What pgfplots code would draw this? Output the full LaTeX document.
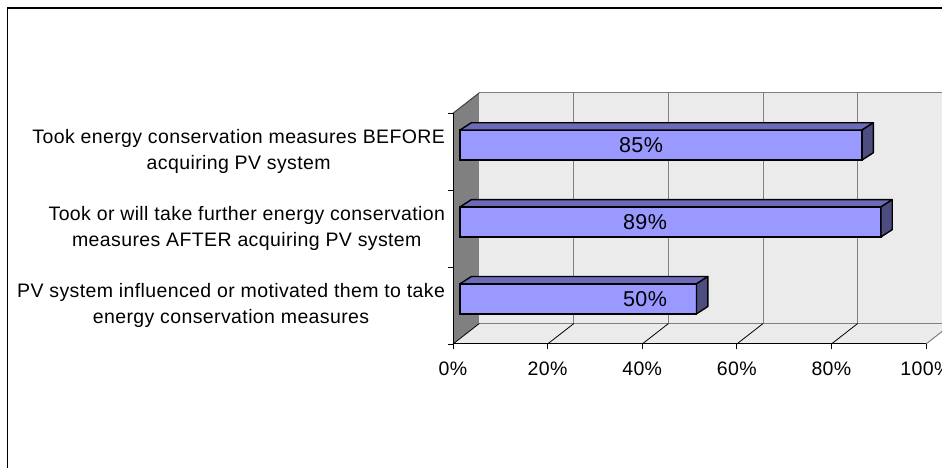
\documentclass[border=0pt]{standalone}
\usepackage{pgfplots}
\pgfplotsset{compat=1.18}
\usepackage{fontspec}
\setmainfont{Liberation Sans}[LetterSpace=2]
\definecolor{barfront}{HTML}{9999FF}
\definecolor{bartop}{HTML}{6B6BB8}
\definecolor{barside}{HTML}{4D4D80}
\definecolor{sidewall}{HTML}{808080}
\definecolor{backwall}{HTML}{EBEBEB}
\definecolor{gridgray}{HTML}{808080}
\newcommand{\lblfont}{\fontsize{19.5}{26}\selectfont}
\begin{document}
\begin{tikzpicture}
\fill[white] (0pt,0pt) rectangle (942pt,468pt);
\draw[line width=1.6pt] (7.5pt,-20pt) -- (7.5pt,460pt) -- (970pt,460pt);
\begin{axis}[
  axis on top,
  at={(453pt,124pt)}, anchor=south west,
  scale only axis, width=473pt, height=230.7pt,
  xmin=0, xmax=100, ymin=-0.5, ymax=2.5,
  clip=false,
  axis x line*=bottom, axis y line*=left,
  axis line style={black, line width=1pt},
  xtick={0,20,40,60,80,100},
  xticklabels={0\%,20\%,40\%,60\%,80\%,100\%},
  ytick={-0.5,0.5,1.5,2.5}, yticklabels={},
  extra y ticks={0,1,2},
  extra y tick labels={{PV system influenced or motivated them to take\\energy conservation measures},
                       {Took or will take further energy conservation\\measures AFTER acquiring PV system},
                       {Took energy conservation measures BEFORE\\acquiring PV system}},
  extra y tick style={tick style={draw=none}},
  tick align=outside,
  major tick length=5.5pt,
  tick style={black, line width=0.8pt},
  ticklabel style={font=\lblfont},
  yticklabel style={align=center, xshift=1pt},
  xticklabel style={yshift=-9pt},
]
  \fill[sidewall] (axis cs:0,-0.5) -- (axis cs:0,2.5)
     -- ([shift={(26.3pt,20.5pt)}]axis cs:0,2.5) -- ([shift={(26.3pt,20.5pt)}]axis cs:0,-0.5) -- cycle;
  \fill[backwall] ([shift={(26.3pt,20.5pt)}]axis cs:0,-0.5) rectangle ([shift={(26.3pt,20.5pt)}]axis cs:100,2.5);
  \fill[backwall] (axis cs:0,-0.5) -- (axis cs:100,-0.5)
     -- ([shift={(26.3pt,20.5pt)}]axis cs:100,-0.5) -- ([shift={(26.3pt,20.5pt)}]axis cs:0,-0.5) -- cycle;
  \draw[gridgray, line width=1pt] ([shift={(26.3pt,20.5pt)}]axis cs:0,2.5) -- ([shift={(26.3pt,20.5pt)}]axis cs:100,2.5);
  \draw[gridgray, line width=1pt] ([shift={(26.3pt,20.5pt)}]axis cs:0,-0.5) -- ([shift={(26.3pt,20.5pt)}]axis cs:100,-0.5);
  \draw[black!75, line width=1pt] (axis cs:0,2.5) -- ([shift={(26.3pt,20.5pt)}]axis cs:0,2.5);
  \pgfplotsinvokeforeach{20,40,60,80}{
    \draw[gridgray, line width=1pt] ([shift={(26.3pt,20.5pt)}]axis cs:#1,-0.5) -- ([shift={(26.3pt,20.5pt)}]axis cs:#1,2.5);
    \draw[black, line width=0.8pt] (axis cs:#1,-0.5) -- ([shift={(26.3pt,20.5pt)}]axis cs:#1,-0.5);
  }
  \draw[gridgray, line width=1pt] ([shift={(26.3pt,20.5pt)}]axis cs:100,-0.5) -- ([shift={(26.3pt,20.5pt)}]axis cs:100,2.5);
  \draw[gridgray, line width=1pt] (axis cs:100,-0.5) -- ([shift={(26.3pt,20.5pt)}]axis cs:100,-0.5);
  \draw[black, line width=0.8pt] (axis cs:0,-0.5) -- ([shift={(26.3pt,20.5pt)}]axis cs:0,-0.5);

\addplot[xbar, bar width=30pt, bar shift=6.7pt, xshift=7pt, fill=barfront, draw=black, line width=1.4pt]
  coordinates {(85,2) (89,1) (50,0)};
\addplot[fill=bartop, draw=black, line width=1.4pt, line join=round, xshift=7pt, yshift=21.7pt]
  coordinates {(0,2) (85,2) (87.39,2.095) (2.39,2.095) (0,2)};
\addplot[fill=bartop, draw=black, line width=1.4pt, line join=round, xshift=7pt, yshift=21.7pt]
  coordinates {(0,1) (89,1) (91.39,1.095) (2.39,1.095) (0,1)};
\addplot[fill=bartop, draw=black, line width=1.4pt, line join=round, xshift=7pt, yshift=21.7pt]
  coordinates {(0,0) (50,0) (52.39,0.095) (2.39,0.095) (0,0)};
\addplot[fill=barside, draw=black, line width=1.4pt, line join=round, xshift=7pt, yshift=21.7pt]
  coordinates {(85,2) (87.39,2.095) (87.39,1.705) (85,1.610) (85,2)};
\addplot[fill=barside, draw=black, line width=1.4pt, line join=round, xshift=7pt, yshift=21.7pt]
  coordinates {(89,1) (91.39,1.095) (91.39,0.705) (89,0.610) (89,1)};
\addplot[fill=barside, draw=black, line width=1.4pt, line join=round, xshift=7pt, yshift=21.7pt]
  coordinates {(50,0) (52.39,0.095) (52.39,-0.295) (50,-0.390) (50,0)};
\addplot[only marks, mark=*, mark size=0.01pt, mark options={draw=none, fill=none},
  point meta=explicit symbolic, nodes near coords,
  every node near coord/.append style={anchor=center, font=\fontsize{21.5}{24}\selectfont, text=black}]
  coordinates {(39.75,2.08) [85\%] (40.6,1.087) [89\%] (40.6,0.085) [50\%]};
\end{axis}
\pgfresetboundingbox
\path[use as bounding box] (0pt,0pt) rectangle (942pt,468pt);
\end{tikzpicture}
\end{document}
